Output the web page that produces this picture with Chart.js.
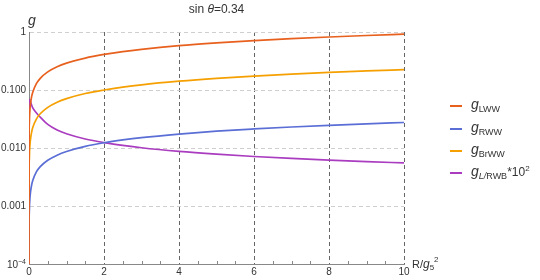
<!DOCTYPE html>
<html lang="en">
<head>
  <meta charset="UTF-8" />
  <title>sin theta = 0.34 couplings</title>
  <script src="https://cdn.jsdelivr.net/npm/chart.js"></script>
  <style>
    * { box-sizing: border-box; }
    body { margin: 0; padding: 0; background: #fff; }
    .chart-container { position: relative; width: 540px; height: 280px; }
  </style>
</head>
<body>
  <div class="chart-container">
    <canvas id="gChart" width="540" height="280"></canvas>
  </div>

  <script>
    // x = R/g5^2
    const xValues = [0, 0.003, 0.008, 0.015, 0.025, 0.04, 0.07, 0.1, 0.2, 0.3, 0.5, 0.75, 1, 1.5, 2, 2.5, 3, 4, 5, 6, 7, 8, 9, 10];
    const gLWW = [1e-5, 0.0159, 0.0259, 0.0355, 0.0459, 0.058, 0.0767, 0.0917, 0.13, 0.159, 0.205, 0.251, 0.29, 0.355, 0.41, 0.459, 0.502, 0.58, 0.648, 0.71, 0.767, 0.82, 0.87, 0.917];
    const gRWW = [1e-5, 0.00048, 0.00078, 0.00107, 0.00138, 0.00174, 0.0023, 0.00275, 0.0039, 0.00477, 0.00615, 0.00753, 0.0087, 0.01066, 0.0123, 0.01376, 0.0151, 0.0174, 0.0195, 0.0213, 0.023, 0.0246, 0.0261, 0.0275];
    const gBrWW = [1e-5, 0.0039, 0.0063, 0.0087, 0.0112, 0.0142, 0.0188, 0.0225, 0.0318, 0.0389, 0.0502, 0.0615, 0.071, 0.087, 0.1, 0.112, 0.123, 0.142, 0.159, 0.174, 0.188, 0.201, 0.213, 0.225];
    const gLRWB = [1e-5, 0.02, 0.05, 0.065, 0.068, 0.063, 0.055, 0.049, 0.040, 0.034, 0.0255, 0.0204, 0.0176, 0.0143, 0.0124, 0.0111, 0.0101, 0.00875, 0.00783, 0.00714, 0.00661, 0.00619, 0.00583, 0.00553];

    const yTicks = [1e-4, 1e-3, 1e-2, 1e-1, 1];
    const yTickLabels = ['', '0.001', '0.010', '0.100', '1']; // 10^-4 drawn by hand below
    const xTicks = [0, 2, 4, 6, 8, 10];

    const FONT = "'Liberation Sans', Arial, sans-serif";

    const series = [
      { name: 'LWW', data: gLWW, color: '#E8601E' },
      { name: 'RWW', data: gRWW, color: '#5A6ED6' },
      { name: 'BrWW', data: gBrWW, color: '#F5A000' },
      { name: 'LRWB', data: gLRWB, color: '#AA3CC0' }
    ];

    // draw a run of text pieces (for sub/superscripts and italics)
    function drawParts(ctx, x, y, parts) {
      parts.forEach(p => {
        ctx.font = (p.italic ? 'italic ' : '') + p.size + 'px ' + FONT;
        ctx.fillText(p.t, x, y + (p.dy || 0));
        x += ctx.measureText(p.t).width;
      });
      return x;
    }
    function partsWidth(ctx, parts) {
      let w = 0;
      parts.forEach(p => {
        ctx.font = (p.italic ? 'italic ' : '') + p.size + 'px ' + FONT;
        w += ctx.measureText(p.t).width;
      });
      return w;
    }

    const legendParts = [
      [{ t: 'g', size: 14, italic: true }, { t: 'LWW', size: 9, dy: 3 }],
      [{ t: 'g', size: 14, italic: true }, { t: 'RWW', size: 9, dy: 3 }],
      [{ t: 'g', size: 14, italic: true }, { t: 'BrWW', size: 9, dy: 3 }],
      [{ t: 'g', size: 14, italic: true }, { t: 'L/', size: 9, italic: true, dy: 3 }, { t: 'RWB', size: 9, dy: 3 },
       { t: '*10', size: 12 }, { t: '2', size: 8, dy: -5 }]
    ];

    const decorPlugin = {
      id: 'decor',
      afterDraw(chart) {
        const ctx = chart.ctx;
        const area = chart.chartArea;
        const xs = chart.scales.x;
        const ys = chart.scales.y;
        ctx.save();

        // minor ticks on the bottom axis
        ctx.strokeStyle = '#888';
        ctx.lineWidth = 1;
        for (let v = 0.5; v < 10; v += 0.5) {
          if (v % 2 === 0) continue;
          const px = Math.round(xs.getPixelForValue(v)) + 0.5;
          ctx.beginPath();
          ctx.moveTo(px, area.bottom);
          ctx.lineTo(px, area.bottom - 3);
          ctx.stroke();
        }

        ctx.fillStyle = '#333';
        ctx.textBaseline = 'alphabetic';
        ctx.textAlign = 'left';

        // lowest y tick label: 10^-4
        const expParts = [{ t: '10', size: 10 }, { t: '\u22124', size: 7, dy: -4 }];
        const yb = ys.getPixelForValue(1e-4);
        drawParts(ctx, area.left - 3 - partsWidth(ctx, expParts), yb + 4, expParts);

        // title
        const titleParts = [{ t: 'sin ', size: 12 }, { t: '\u03B8', size: 12, italic: true }, { t: '=0.34', size: 12 }];
        const w = partsWidth(ctx, titleParts);
        drawParts(ctx, (area.left + area.right) / 2 - w / 2, 13, titleParts);

        // axis labels
        drawParts(ctx, area.left - 1, 25, [{ t: 'g', size: 14, italic: true }]);
        drawParts(ctx, area.right + 8, 268, [
          { t: 'R/', size: 11 }, { t: 'g', size: 12, italic: true },
          { t: '5', size: 8, dy: 2 }, { t: '2', size: 8, dy: -6 }
        ]);

        // legend
        const rowsY = [106, 129, 151, 173];
        series.forEach((s, i) => {
          const y = rowsY[i];
          ctx.strokeStyle = s.color;
          ctx.lineWidth = 2;
          ctx.beginPath();
          ctx.moveTo(450, y);
          ctx.lineTo(462, y);
          ctx.stroke();
          ctx.fillStyle = '#333';
          drawParts(ctx, 471, y + 3, legendParts[i]);
        });

        ctx.restore();
      }
    };

    const ctx = document.getElementById('gChart').getContext('2d');
    new Chart(ctx, {
      type: 'line',
      data: {
        datasets: series.map(s => ({
          label: s.name,
          data: xValues.map((x, i) => ({ x: x, y: s.data[i] })),
          borderColor: s.color,
          backgroundColor: s.color,
          borderWidth: 1.7,
          pointRadius: 0,
          cubicInterpolationMode: 'monotone',
          fill: false
        }))
      },
      options: {
        responsive: false,
        animation: false,
        maintainAspectRatio: false,
        layout: { padding: { top: 32, right: 136, left: 0, bottom: 0 } },
        plugins: {
          legend: { display: false },
          title: { display: false },
          tooltip: { enabled: false }
        },
        scales: {
          x: {
            type: 'linear',
            min: 0,
            max: 10,
            afterBuildTicks: scale => { scale.ticks = xTicks.map(v => ({ value: v })); },
            afterFit: scale => { scale.height = 16; },
            ticks: {
              padding: 2,
              maxRotation: 0,
              color: '#333',
              font: { family: FONT, size: 10 }
            },
            grid: { color: '#666', drawTicks: false, lineWidth: 1 },
            border: { display: true, color: '#888', dash: [4, 3] }
          },
          y: {
            type: 'logarithmic',
            min: 1e-4,
            max: 1,
            afterBuildTicks: scale => { scale.ticks = yTicks.map(v => ({ value: v })); },
            afterFit: scale => { scale.width = 29; },
            ticks: {
              padding: 3,
              color: '#333',
              font: { family: FONT, size: 10 },
              callback: (value) => yTickLabels[yTicks.findIndex(t => Math.abs(t - value) / t < 1e-6)]
            },
            grid: { color: '#cfcfcf', drawTicks: false, lineWidth: 1 },
            border: { display: true, color: '#888', dash: [4, 3] }
          }
        }
      },
      plugins: [decorPlugin]
    });
  </script>
</body>
</html>
